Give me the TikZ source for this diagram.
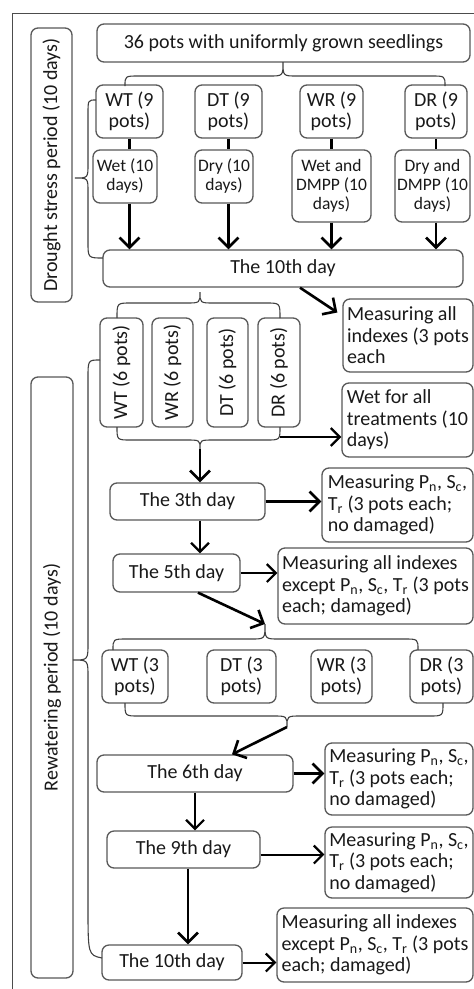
\documentclass[tikz,border=0pt]{standalone}
\usepackage{fontspec}
\setmainfont{Carlito}
\usepackage{graphicx}
\usetikzlibrary{arrows.meta,calc}
\newcommand\sbs[1]{\textsubscript{#1}}
% horizontal brace: x1, x2, yend, ymid, xtip, ytip
\newcommand\hbr[6]{%
  \draw[brc] (#1,#3) .. controls (#1,#4) .. (#1+14,#4) -- (#5-14,#4)
    .. controls (#5,#4) .. (#5,#6) .. controls (#5,#4) .. (#5+14,#4)
    -- (#2-14,#4) .. controls (#2,#4) .. (#2,#3);}
\begin{document}
\begin{tikzpicture}[x=1pt,y=-1pt,
  box/.style={draw=black!65, line width=1.3pt, rounded corners=7pt, inner sep=2pt,
    text=black!90, font=\fontsize{20}{21.5}\selectfont, align=center},
  sbox/.style={box, font=\fontsize{17.5}{19}\selectfont},
  lbox/.style={box, align=left},
  brc/.style={draw=black!75, line width=1.1pt},
  ln/.style={line width=2.6pt, black},
  arr/.style={line width=2.6pt, black, -{Straight Barb[length=10pt,width=20pt,line width=2.6pt]}},
  arrt/.style={line width=2pt, black, -{Straight Barb[length=9pt,width=18pt,line width=2.2pt]}}]
\useasboundingbox (0,0) rectangle (474,989);
\fill[white] (0,0) rectangle (474,989);
% outer frame (cut by the page on right and bottom)
\draw[black!70, line width=1pt] (12,1000) -- (12,13) -- (490,13);

% side labels
\node[box, minimum width=41, minimum height=274] (lab1) at (51.5,165) {\rotatebox{90}{Drought stress period (10 days)}};
\node[box, minimum width=42, minimum height=601] (lab2) at (52,677.5) {\rotatebox{90}{Rewatering period (10 days)}};

% drought stress part
\node[box, minimum width=373, minimum height=38] (top) at (283.5,43) {36 pots with uniformly grown seedlings};
\node[box, minimum width=67, minimum height=53] (wt9) at (129.5,111.5) {WT (9\\pots)};
\node[box, minimum width=67, minimum height=53] (dt9) at (228.5,111.5) {DT (9\\pots)};
\node[box, minimum width=63, minimum height=53] (wr9) at (331.5,111.5) {WR (9\\pots)};
\node[box, minimum width=62, minimum height=53] (dr9) at (436,111.5) {DR (9\\pots)};
\node[sbox, minimum width=64, minimum height=53] (wet) at (125,176.5) {Wet (10\\days)};
\node[sbox, minimum width=58, minimum height=53] (dry) at (224,176.5) {Dry (10\\days)};
\node[sbox, minimum width=79, minimum height=72] (wetd) at (331.5,186) {Wet and\\DMPP (10\\days)};
\node[sbox, minimum width=75, minimum height=72] (dryd) at (432.5,186) {Dry and\\DMPP (10\\days)};
\node[box, minimum width=360, minimum height=37] (d10a) at (283,268.5) {The 10th day};
\node[lbox, minimum width=130, minimum height=73] (m1) at (408,335.5) {Measuring all\\indexes (3 pots\\each};

% rewatering part
\node[box, minimum width=43, minimum height=109] (wt6) at (121.5,372.5) {\rotatebox{90}{WT (6 pots)}};
\node[box, minimum width=41, minimum height=109] (wr6) at (172.5,372.5) {\rotatebox{90}{WR (6 pots)}};
\node[box, minimum width=41, minimum height=109] (dt6) at (227.5,372.5) {\rotatebox{90}{DT (6 pots)}};
\node[box, minimum width=42, minimum height=109] (dr6) at (279,372.5) {\rotatebox{90}{DR (6 pots)}};
\node[lbox, minimum width=131, minimum height=74] (wall) at (407.5,420) {Wet for all\\treatments (10\\days)};
\node[box, minimum width=155, minimum height=37] (d3) at (187.5,501.5) {The 3th day};
\node[lbox, minimum width=151, minimum height=74] (m3) at (397.5,505) {Measuring P\sbs{n}, S\sbs{c},\\T\sbs{r} (3 pots each;\\no damaged)};
\node[box, minimum width=127, minimum height=38] (d5) at (176.5,573) {The 5th day};
\node[lbox, minimum width=195, minimum height=76] (m5) at (375.5,586) {Measuring all indexes\\except P\sbs{n}, S\sbs{c}, T\sbs{r} (3 pots\\each; damaged)};
\node[box, minimum width=66, minimum height=53] (wt3) at (135,676.5) {WT (3\\pots)};
\node[box, minimum width=69, minimum height=53] (dt3) at (241.5,676.5) {DT (3\\pots)};
\node[box, minimum width=61, minimum height=53] (wr3) at (341.5,676.5) {WR (3\\pots)};
\node[box, minimum width=63, minimum height=53] (dr3) at (441.5,676.5) {DR (3\\pots)};
\node[box, minimum width=196, minimum height=37] (d6) at (195,773.5) {The 6th day};
\node[lbox, minimum width=148, minimum height=72] (m6) at (399,779) {Measuring P\sbs{n}, S\sbs{c},\\T\sbs{r} (3 pots each;\\no damaged)};
\node[box, minimum width=153, minimum height=37] (d9) at (183.5,849.5) {The 9th day};
\node[lbox, minimum width=148, minimum height=71] (m9) at (399,862.5) {Measuring P\sbs{n}, S\sbs{c},\\T\sbs{r} (3 pots each;\\no damaged)};
\node[box, minimum width=140, minimum height=35] (d10b) at (172,962.5) {The 10th day};
\node[lbox, minimum width=196, minimum height=74] (m10) at (375,945) {Measuring all indexes\\except P\sbs{n}, S\sbs{c}, T\sbs{r} (3 pots\\each; damaged)};

% braces
\hbr{125}{445}{86}{76}{283}{62}
\hbr{117}{280}{318}{303}{200}{292}
\hbr{117}{280}{427}{440}{200}{449}
\hbr{113}{418}{650}{639}{265}{624}
\hbr{125}{443}{703}{716}{287}{727}
\draw[brc] (96,100) .. controls (88,100) .. (88,114) -- (88,164)
  .. controls (88,178) .. (75,178) .. controls (88,178) .. (88,192)
  -- (88,242) .. controls (88,258) .. (103,258);
\draw[brc] (100,360) .. controls (88,360) .. (88,378) -- (88,643)
  .. controls (88,660) .. (73,660) .. controls (88,660) .. (88,677)
  -- (88,905) .. controls (88,955) .. (102,958);
\coordinate (b3tip) at (200,449);
\coordinate (b3end) at (280,437);
\coordinate (b4tip) at (265,624);
\coordinate (b5tip) at (287,727);

% connectors, drought part
\draw[ln] (wt9.south) -- (wt9.south |- wet.north);
\draw[ln] (dt9.south) -- (dt9.south |- dry.north);
\draw[ln] (wr9.south) -- (wr9.south |- wetd.north);
\draw[ln] (dr9.south) -- (dr9.south |- dryd.north);
\draw[arr] (wt9.south |- wet.south) -- (wt9.south |- d10a.north);
\draw[arr] (dt9.south |- dry.south) -- (dt9.south |- d10a.north);
\draw[arr] (wr9.south |- wetd.south) -- (wr9.south |- d10a.north);
\draw[arr] (dr9.south |- dryd.south) -- (dr9.south |- d10a.north);
\draw[arr] ([xshift=17pt]d10a.south) -- ([xshift=-5pt,yshift=23pt]m1.west);

% connectors, rewatering part
\draw[arrt] (b3end) -- (b3end -| wall.west);
\draw[arr] (b3tip) -- (b3tip |- d3.north);
\draw[arr] (d3.east) -- (d3.east -| m3.west);
\draw[arrt] ([xshift=12.5pt]d3.south) -- ([xshift=12.5pt]d3.south |- d5.north);
\draw[arrt] (d5.east) -- (d5.east -| m5.west);
\draw[arr] ([xshift=21.5pt]d5.south) -- (b4tip);
\draw[arr] (b5tip) -- ([xshift=37pt]d6.north);
\draw[arr] (d6.east) -- (d6.east -| m6.west);
\draw[arrt] (d6.south) -- (d6.south |- d9.north);
\draw[arrt] ([yshift=-5pt]d9.east) -- ([yshift=-5pt]d9.east -| m9.west);
\draw[arr] ([xshift=4.5pt]d9.south) -- ([xshift=4.5pt]d9.south |- d10b.north);
\draw[arrt] (d10b.east) -- (d10b.east -| m10.west);
\end{tikzpicture}
\end{document}
